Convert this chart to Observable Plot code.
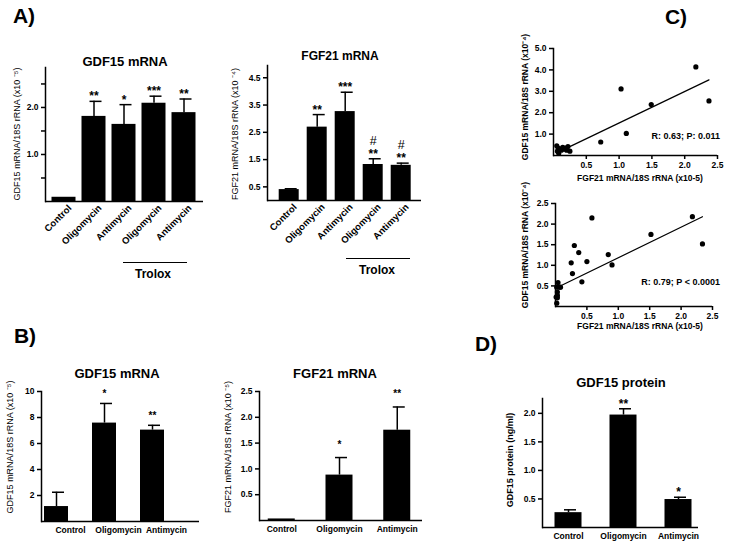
<!DOCTYPE html>
<html><head><meta charset="utf-8">
<script src="https://cdn.jsdelivr.net/npm/d3@7"></script>
<script src="https://cdn.jsdelivr.net/npm/@observablehq/plot@0.6"></script>
<style>
body{margin:0;background:#fff;}
#root{position:relative;width:733px;height:544px;overflow:hidden;font-family:Arial,"Liberation Sans",Helvetica,sans-serif;color:#000;background:#fff;}
.abs{position:absolute;white-space:nowrap;line-height:1;}
.c{transform:translate(-50%,-50%);}
.rot{transform:translate(-50%,-50%) rotate(-90deg);}
.title{font-weight:bold;font-size:13px;}
.letter{font-weight:bold;font-size:21px;}
.ylab{font-size:9px;}
.ylabb{font-size:8.5px;font-weight:bold;}
.ann{font-size:9px;font-weight:bold;}
.trolox{font-size:12px;font-weight:bold;}
svg{position:absolute;}
</style></head><body><div id="root"></div>
<script>
// ---------- DATA ----------
// Panel A (GDF15 mRNA x10^-5; FGF21 mRNA x10^-4)
const aCategories = ["Control", "Oligomycin", "Antimycin", "Trolox + Oligomycin", "Trolox + Antimycin"];
const aTickLabels = ["Control", "Oligomycin", "Antimycin", "Oligomycin", "Antimycin"];
const aGdf15 = [0.09, 1.81, 1.64, 2.09, 1.89];
const aGdf15Err = [0, 0.32, 0.42, 0.15, 0.29];
const aGdf15Sig = ["", "**", "*", "***", "**"];
const aGdf15Hash = ["", "", "", "", ""];
const aFgf21 = [0.40, 2.69, 3.26, 1.32, 1.29];
const aFgf21Err = [0.03, 0.46, 0.71, 0.21, 0.08];
const aFgf21Sig = ["", "**", "***", "**", "**"];
const aFgf21Hash = ["", "", "", "#", "#"];

// Panel B (GDF15 mRNA x10^-5; FGF21 mRNA x10^-5)
const bCategories = ["Control", "Oligomycin", "Antimycin"];
const bGdf15 = [1.15, 7.57, 7.03];
const bGdf15Err = [1.1, 1.51, 0.37];
const bGdf15Sig = ["", "*", "**"];
const bFgf21 = [0.03, 0.88, 1.75];
const bFgf21Err = [0, 0.34, 0.45];
const bFgf21Sig = ["", "*", "**"];

// Panel C (x: FGF21 mRNA/18S rRNA x10^-5; y: GDF15 mRNA/18S rRNA x10^-4)
const cTopX = [2.17, 2.37, 1.03, 1.49, 1.11, 0.72, 0.05, 0.07, 0.08, 0.10, 0.12, 0.14, 0.16, 0.20, 0.22, 0.25, 0.06, 0.18];
const cTopY = [4.14, 2.55, 3.11, 2.38, 1.03, 0.63, 0.45, 0.35, 0.10, 0.30, 0.25, 0.38, 0.30, 0.25, 0.42, 0.20, 0.20, 0.35];
const cTopFit = {slope: 1.47, intercept: 0.05};
const cTopStat = "R: 0.63; P: 0.011";
const cBotX = [0.58, 2.18, 2.34, 1.52, 0.30, 0.37, 0.84, 0.25, 0.50, 0.90, 0.27, 0.42, 0.04, 0.02, 0.08, 0.03, 0.03, 0.02, 0.03, 0.06, 0.01];
const cBotY = [2.15, 2.18, 1.52, 1.75, 1.48, 1.31, 1.26, 1.06, 1.09, 1.01, 0.80, 0.60, 0.58, 0.47, 0.47, 0.27, 0.21, 0.08, 0.35, 0.47, 0.23];
const cBotFit = {slope: 0.743, intercept: 0.44};
const cBotStat = "R: 0.79; P < 0.0001";

// Panel D (GDF15 protein ng/ml)
const dCategories = ["Control", "Oligomycin", "Antimycin"];
const dProtein = [0.26, 1.97, 0.49];
const dProteinErr = [0.05, 0.11, 0.04];
const dProteinSig = ["", "**", "*"];

// ---------- HELPERS ----------
const FONT = 'Arial, "Liberation Sans", Helvetica, sans-serif';
const root = document.getElementById("root");
function place(el, left, top) { el.style.left = left + "px"; el.style.top = top + "px"; root.appendChild(el); }
function label(text, x, y, cls) {
  const d = document.createElement("div");
  d.className = "abs " + cls; d.textContent = text;
  d.style.left = x + "px"; d.style.top = y + "px";
  root.appendChild(d); return d;
}
function hline(x, y, w) {
  const d = document.createElement("div");
  d.className = "abs"; d.style.left = x + "px"; d.style.top = y + "px"; d.style.width = w + "px"; d.style.borderTop = "1px solid #000";
  root.appendChild(d);
}
function bandOpts(r0, r1, n, c0, s, bw) {
  const pi = 1 - bw / s;
  const total = (r1 - r0) / s;
  const po = Math.max(0, (total - n + pi) / 2);
  const free = (r1 - r0) - s * (n - pi);
  const align = free > 0 ? Math.min(1, Math.max(0, (c0 - bw / 2 - r0) / free)) : 0.5;
  return {paddingInner: pi, paddingOuter: po, align, round: false};
}
const baseStyle = {fontFamily: FONT, fontSize: "8.5px", background: "transparent", color: "black", overflow: "visible"};

function barPanel(p) {
  const n = p.cats.length;
  const r0 = p.ml, r1 = p.width - p.mr;
  const bo = bandOpts(r0, r1, n, p.c0 - p.left, p.step, p.bw);
  const data = p.cats.map((c, i) => ({cat: c, v: p.values[i], hi: p.values[i] + p.errs[i], sig: p.sigs[i], hash: p.hash ? p.hash[i] : ""}));
  const nameOf = new Map(p.cats.map((c, i) => [c, p.labels[i]]));
  const withErr = data.filter(d => d.hi > d.v);
  const capL = p.bw / 2 - 4, capR = p.bw / 2 - 8;
  const chart = Plot.plot({
    width: p.width, height: p.height, marginLeft: p.ml, marginRight: p.mr, marginTop: p.mt, marginBottom: p.mb,
    style: baseStyle,
    x: {domain: p.cats, ...bo},
    y: {domain: p.yDomain},
    marks: [
      Plot.barY(data, {x: "cat", y: "v", fill: "black"}),
      Plot.ruleX(withErr, {x: "cat", y1: "v", y2: "hi", stroke: "black", strokeWidth: 1.5}),
      Plot.tickY(withErr, {x: "cat", y: "hi", stroke: "black", strokeWidth: 1.5, insetLeft: capL, insetRight: capR}),
      Plot.text(data, {x: "cat", y: "hi", text: "sig", lineAnchor: "bottom", dy: p.starDy, fontSize: p.starSize, fontWeight: "bold", fill: "black"}),
      Plot.text(data.filter(d => d.hash), {x: "cat", y: "hi", text: "hash", lineAnchor: "bottom", dy: p.starDy - 13, fontSize: 12.5, fill: "black"}),
      Plot.ruleY([p.yDomain[0]], {stroke: "black", strokeWidth: 1.5}),
      Plot.frame({anchor: "left", stroke: "black", strokeWidth: 1.5}),
      Plot.axisY({ticks: p.yTicks, tickFormat: p.yFormat, tickSize: 4, tickPadding: 3, stroke: "black", strokeWidth: 1.5, fill: "black", fontWeight: "bold", fontSize: 8.5, label: null}),
      Plot.axisX({tickSize: 0, tickPadding: p.xPad, tickRotate: p.rotate || 0, tickFormat: d => nameOf.get(d),
        fill: "black", fontWeight: "bold", fontSize: p.xFont, label: null, dx: p.xDx || 0})
    ]
  });
  place(chart, p.left, p.top);
}

function scatterPanel(p) {
  const pts = p.xs.map((x, i) => ({x, y: p.ys[i]}));
  const ext = d3.extent(p.xs);
  const fit = ext.map(x => ({x, y: p.fit.intercept + p.fit.slope * x}));
  const chart = Plot.plot({
    width: p.width, height: p.height, marginLeft: p.ml, marginRight: p.mr, marginTop: p.mt, marginBottom: p.mb,
    style: baseStyle,
    x: {domain: [0, 2.5]},
    y: {domain: p.yDomain},
    marks: [
      Plot.line(fit, {x: "x", y: "y", stroke: "black", strokeWidth: 1.2}),
      Plot.dot(pts, {x: "x", y: "y", r: 2.6, fill: "black"}),
      Plot.ruleY([0], {stroke: "black", strokeWidth: 1.5}),
      Plot.frame({anchor: "left", stroke: "black", strokeWidth: 1.5}),
      Plot.axisY({ticks: p.yTicks, tickFormat: ".1f", tickSize: 4, tickPadding: 3, stroke: "black", strokeWidth: 1.5, fill: "black", fontWeight: "bold", fontSize: 8.5, label: null}),
      Plot.axisX({ticks: [0.5, 1, 1.5, 2, 2.5], tickFormat: ".1f", tickSize: 4, tickPadding: 2, stroke: "black", strokeWidth: 1.5, fill: "black", fontWeight: "bold", fontSize: 8.5, label: null})
    ]
  });
  place(chart, p.left, p.top);
}

// ---------- PANEL A ----------
label("A)", 24, 15, "letter c");
label("GDF15 mRNA", 125, 61, "title c");
label("GDF15 mRNA/18S rRNA (x10 \u207B\u2075)", 17, 134, "ylab rot");
barPanel({cats: aCategories, labels: aTickLabels, values: aGdf15, errs: aGdf15Err, sigs: aGdf15Sig, hash: aGdf15Hash,
  left: 0, top: 60, width: 230, height: 210, ml: 45, mr: 27, mt: 7, mb: 69,
  c0: 63.5, step: 30, bw: 24, yDomain: [0, 2.85], yTicks: [0.5, 1, 1.5, 2, 2.5],
  yFormat: d => (d % 1 === 0 ? d.toFixed(1) : ""), rotate: -45, xPad: 5, xDx: 6, xFont: 9.5, starDy: -1, starSize: 12});
hline(123, 262, 64);
label("Trolox", 153, 274, "trolox c");

label("FGF21 mRNA", 340, 56, "title c").style.fontSize = "12px";
label("FGF21 mRNA/18S rRNA (x10 \u207B\u2074)", 235, 134, "ylab rot");
barPanel({cats: aCategories, labels: aTickLabels, values: aFgf21, errs: aFgf21Err, sigs: aFgf21Sig, hash: aFgf21Hash,
  left: 230, top: 55, width: 200, height: 215, ml: 37, mr: 9, mt: 10, mb: 70,
  c0: 288.7, step: 28, bw: 20, yDomain: [0, 4.95], yTicks: [0.5, 1.5, 2.5, 3.5, 4.5],
  yFormat: d3.format(".1f"), rotate: -45, xPad: 5, xDx: 6, xFont: 9.5, starDy: -1, starSize: 12});
hline(346, 258, 64);
label("Trolox", 377, 270, "trolox c");

// ---------- PANEL B ----------
label("B)", 25, 335, "letter c");
label("GDF15 mRNA", 117, 373, "title c");
label("GDF15 mRNA/18S rRNA (x10 \u207B\u2075)", 10, 447, "ylab rot");
barPanel({cats: bCategories, labels: bCategories, values: bGdf15, errs: bGdf15Err, sigs: bGdf15Sig,
  left: 0, top: 385, width: 210, height: 159, ml: 41, mr: 11, mt: 6, mb: 23,
  c0: 56, step: 48, bw: 24,
  yDomain: [0, 10], yTicks: [2, 4, 6, 8, 10], yFormat: d3.format("d"),
  rotate: 0, xPad: 5, xDx: 14, xFont: 8.5, starDy: -6.5, starSize: 10});

label("FGF21 mRNA", 335, 373, "title c");
label("FGF21 mRNA/18S rRNA (x10 \u207B\u2075)", 228, 447, "ylab rot");
barPanel({cats: bCategories, labels: bCategories, values: bFgf21, errs: bFgf21Err, sigs: bFgf21Sig,
  left: 220, top: 385, width: 210, height: 159, ml: 39, mr: 8, mt: 6, mb: 24,
  c0: 281.25, step: 57.75, bw: 27,
  yDomain: [0, 2.5], yTicks: [0.5, 1, 1.5, 2, 2.5], yFormat: d3.format(".1f"),
  rotate: 0, xPad: 5, xFont: 8.5, starDy: -10, starSize: 10});

// ---------- PANEL C ----------
label("C)", 676, 16, "letter c");
label("GDF15 mRNA/18S rRNA (x10\u207B\u2074)", 525, 97, "ylabb rot");
scatterPanel({xs: cTopX, ys: cTopY, fit: cTopFit, left: 520, top: 40, width: 213, height: 140,
  ml: 33, mr: 16, mt: 8, mb: 25, yDomain: [0, 5], yTicks: [1, 2, 3, 4, 5]});
label(cTopStat, 720, 132, "ann").style.transform = "translateX(-100%)";
label("FGF21 mRNA/18S rRNA (x10-5)", 640, 178, "ylabb c");

label("GDF15 mRNA/18S rRNA (x10\u207B\u2074)", 525, 245, "ylabb rot");
scatterPanel({xs: cBotX, ys: cBotY, fit: cBotFit, left: 520, top: 195, width: 213, height: 135,
  ml: 35, mr: 21, mt: 8, mb: 24, yDomain: [0, 2.5], yTicks: [0.5, 1, 1.5, 2, 2.5]});
label(cBotStat, 720, 278, "ann").style.transform = "translateX(-100%)";
label("FGF21 mRNA/18S rRNA (x10-5)", 640, 326, "ylabb c");

// ---------- PANEL D ----------
label("D)", 486, 343, "letter c");
label("GDF15 protein", 621, 382, "title c");
label("GDF15 protein (ng/ml)", 510, 460, "ylabb rot").style.fontSize = "9px";
barPanel({cats: dCategories, labels: dCategories, values: dProtein, errs: dProteinErr, sigs: dProteinSig,
  left: 490, top: 390, width: 243, height: 154, ml: 52, mr: 35, mt: 8, mb: 17,
  c0: 568, step: 55, bw: 27,
  yDomain: [0, 2.26], yTicks: [0.5, 1, 1.5, 2], yFormat: d3.format(".1f"),
  rotate: 0, xPad: 5, xFont: 8.5, starDy: -1, starSize: 12});
</script></body></html>
